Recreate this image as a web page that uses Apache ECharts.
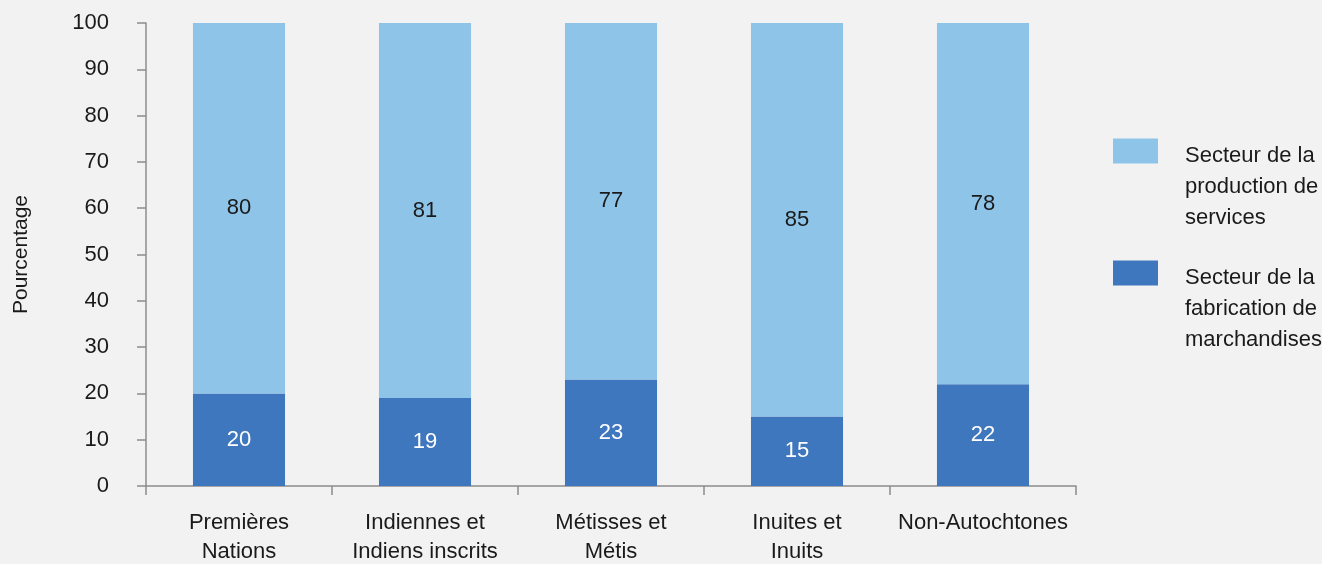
<!DOCTYPE html>
<html>
<head>
<meta charset="utf-8">
<script src="https://cdn.jsdelivr.net/npm/echarts@6/dist/echarts.min.js"></script>
<style>
  html, body { margin: 0; padding: 0; background: #f2f2f2; }
  #chart { width: 1322px; height: 564px; }
</style>
</head>
<body>
<div id="chart"></div>
<script>
// Groups shown along the horizontal axis
const categories = [
  'Premières\nNations',
  'Indiennes et\nIndiens inscrits',
  'Métisses et\nMétis',
  'Inuites et\nInuits',
  'Non-Autochtones'
];
// Share of workers by sector (%)
const goodsSector = [20, 19, 23, 15, 22];
const servicesSector = [80, 81, 77, 85, 78];
const seriesNames = [
  'Secteur de la\nproduction de\nservices',
  'Secteur de la\nfabrication de\nmarchandises'
];
const yTicks = { min: 0, max: 100, interval: 10 };

const FONT = '"Liberation Sans", Arial, sans-serif';
const INK = '#1a1a1a';
const AXIS = '#8c8c8c';
const LIGHT = '#8dc4e8';
const DARK = '#3e77bd';

// Legend text sits top-aligned beside its swatch: an invisible first line pushes it down
const legendText = {
  fontFamily: FONT, fontSize: 22, color: INK,
  padding: [0, 0, 0, 22],
  rich: {
    pad: { fontSize: 1, lineHeight: 71 },
    t: { fontFamily: FONT, fontSize: 22, color: INK, lineHeight: 31 }
  }
};
const legendFormatter = name =>
  '{pad| }\n' + name.split('\n').map(l => '{t|' + l + '}').join('\n');

const chart = echarts.init(document.getElementById('chart'), null, { renderer: 'canvas' });
chart.setOption({
  backgroundColor: '#f2f2f2',
  animation: false,
  textStyle: { fontFamily: FONT },
  grid: { left: 146, right: 246, top: 23, bottom: 78, containLabel: false, outerBoundsMode: 'none' },
  legend: [
    {
      data: [seriesNames[0]], left: 1113, top: 104, padding: 0, orient: 'vertical',
      itemWidth: 45, itemHeight: 25, icon: 'rect', selectedMode: false,
      formatter: legendFormatter, textStyle: legendText
    },
    {
      data: [seriesNames[1]], left: 1113, top: 226, padding: 0, orient: 'vertical',
      itemWidth: 45, itemHeight: 25, icon: 'rect', selectedMode: false,
      formatter: legendFormatter, textStyle: legendText
    }
  ],
  xAxis: {
    type: 'category',
    data: categories,
    axisLine: { lineStyle: { color: AXIS, width: 1.5 } },
    axisTick: { show: true, length: 9, alignWithLabel: false, lineStyle: { color: AXIS, width: 1.5 } },
    axisLabel: { fontFamily: FONT, fontSize: 22, color: INK, lineHeight: 29, margin: 22, interval: 0 }
  },
  yAxis: {
    type: 'value',
    min: yTicks.min, max: yTicks.max, interval: yTicks.interval,
    name: 'Pourcentage',
    nameLocation: 'middle',
    nameGap: 114,
    nameTextStyle: { fontFamily: FONT, fontSize: 21, color: INK },
    axisLine: { show: true, lineStyle: { color: AXIS, width: 1.5 } },
    axisTick: { show: true, length: 9, lineStyle: { color: AXIS, width: 1.5 } },
    splitLine: { show: false },
    axisLabel: { fontFamily: FONT, fontSize: 22, color: INK, margin: 37 }
  },
  series: [
    {
      name: seriesNames[1], type: 'bar', stack: 'total', data: goodsSector,
      barWidth: '49.5%', itemStyle: { color: DARK },
      label: { show: true, position: 'inside', fontFamily: FONT, fontSize: 22, color: '#ffffff' }
    },
    {
      name: seriesNames[0], type: 'bar', stack: 'total', data: servicesSector,
      barWidth: '49.5%', itemStyle: { color: LIGHT },
      label: { show: true, position: 'inside', fontFamily: FONT, fontSize: 22, color: INK }
    }
  ]
});
</script>
</body>
</html>
